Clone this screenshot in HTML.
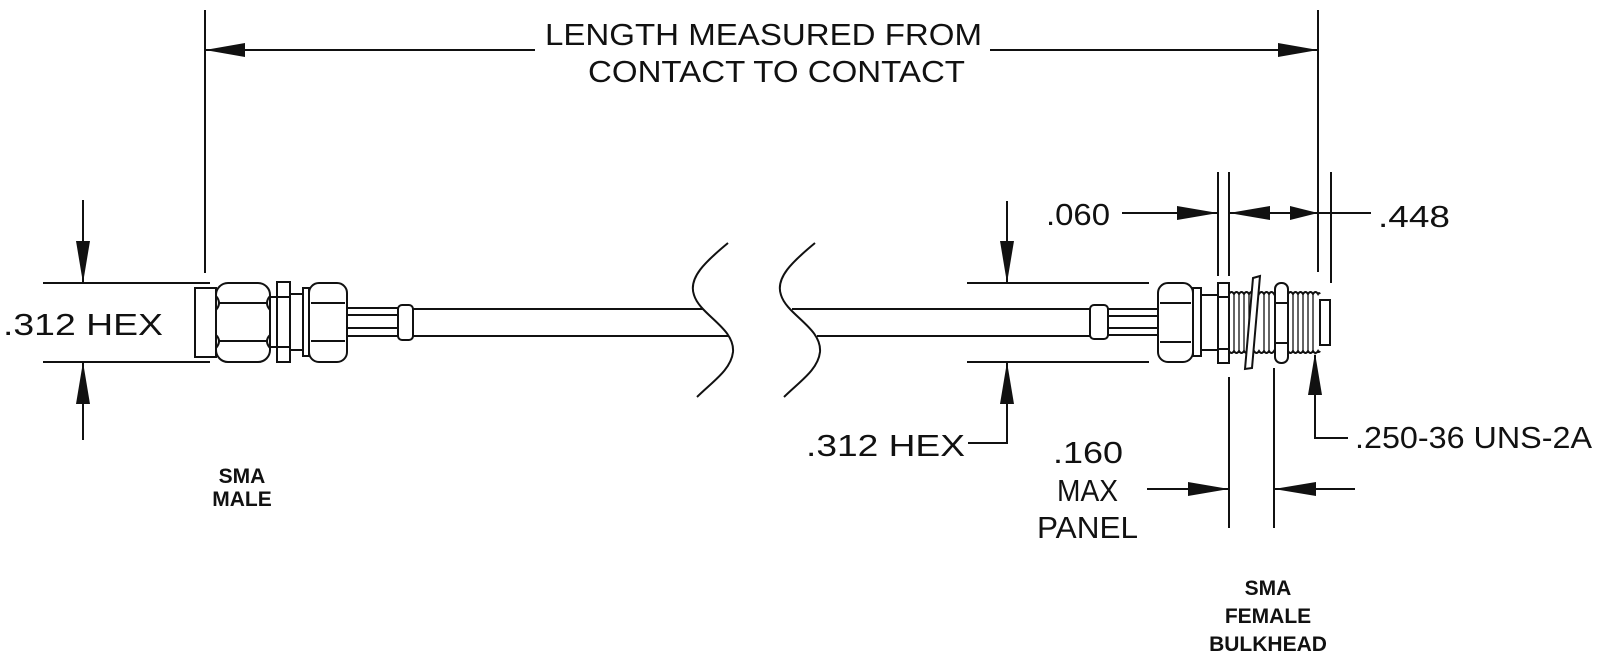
<!DOCTYPE html>
<html><head><meta charset="utf-8"><style>
html,body{margin:0;padding:0;background:#fff;}
svg{display:block;}
text{font-family:"Liberation Sans",sans-serif;fill:#111;}
.t{font-size:31px;}
.b{font-size:21px;font-weight:bold;}
</style></head><body>
<svg width="1600" height="661" viewBox="0 0 1600 661" xmlns="http://www.w3.org/2000/svg">
<g stroke="#111" stroke-width="2" fill="none">
<!-- contact lines -->
<line x1="205" y1="10" x2="205" y2="273"/>
<line x1="1318" y1="10" x2="1318" y2="272"/>
<!-- top dimension line -->
<line x1="205" y1="50" x2="535" y2="50"/>
<line x1="990" y1="50" x2="1318" y2="50"/>
<!-- left hex dim -->
<line x1="43" y1="283" x2="210" y2="283"/>
<line x1="43" y1="362" x2="210" y2="362"/>
<line x1="83" y1="200" x2="83" y2="283"/>
<line x1="83" y1="362" x2="83" y2="440"/>
<!-- right hex dim -->
<line x1="967" y1="283" x2="1149" y2="283"/>
<line x1="967" y1="362" x2="1149" y2="362"/>
<line x1="1007" y1="201" x2="1007" y2="283"/>
<polyline points="1007,362 1007,443 968,443"/>
<!-- .060 / .448 -->
<line x1="1218" y1="172" x2="1218" y2="276"/>
<line x1="1229" y1="172" x2="1229" y2="276"/>
<line x1="1331" y1="172" x2="1331" y2="283"/>
<line x1="1122" y1="213" x2="1218" y2="213"/>
<line x1="1229" y1="213" x2="1318" y2="213"/>
<line x1="1318" y1="213" x2="1371" y2="213"/>
<!-- panel -->
<line x1="1229" y1="377" x2="1229" y2="528"/>
<line x1="1274" y1="368" x2="1274" y2="528"/>
<line x1="1147" y1="489" x2="1229" y2="489"/>
<line x1="1274" y1="489" x2="1355" y2="489"/>
<!-- thread leader -->
<polyline points="1315,355 1315,438 1348,438"/>

<!-- LEFT CONNECTOR -->
<rect x="195" y="288" width="21" height="69"/>
<rect x="216" y="283" width="54" height="79" rx="12"/>
<line x1="218" y1="303" x2="268" y2="303"/>
<line x1="218" y1="341" x2="268" y2="341"/>
<path d="M216,296 Q222,303 216,310 M216,335 Q222,341 216,348 M270,296 Q264,303 270,310 M270,335 Q264,341 270,348"/>
<line x1="270" y1="297" x2="277" y2="297"/><line x1="270" y1="347" x2="277" y2="347"/>
<rect x="277" y="282" width="13" height="80"/>
<line x1="277" y1="297" x2="290" y2="297"/><line x1="277" y1="347" x2="290" y2="347"/>
<line x1="290" y1="294" x2="303" y2="294"/><line x1="290" y1="350" x2="303" y2="350"/>
<rect x="303" y="288" width="6" height="68"/>
<rect x="309" y="283" width="38" height="79" rx="10"/>
<line x1="311" y1="303" x2="345" y2="303"/>
<line x1="311" y1="341" x2="345" y2="341"/>
<line x1="347" y1="308" x2="398" y2="308"/>
<line x1="347" y1="315" x2="398" y2="315"/>
<line x1="347" y1="328" x2="398" y2="328"/>
<line x1="347" y1="336" x2="398" y2="336"/>
<rect x="398" y="305" width="15" height="35" rx="4"/>
<!-- cable -->
<line x1="413" y1="309" x2="703" y2="309"/>
<line x1="413" y1="336" x2="729" y2="336"/>
<line x1="792" y1="309" x2="1090" y2="309"/>
<line x1="817" y1="336" x2="1090" y2="336"/>
<!-- breaks -->
<path d="M728,243 C705,262 688,278 694,295 C700,315 735,328 733,352 C731,370 712,382 697,397"/>
<path d="M815,243 C792,262 775,278 781,295 C787,315 822,328 820,352 C818,370 799,382 784,397"/>

<!-- RIGHT CONNECTOR -->
<rect x="1090" y="305" width="18" height="34" rx="4"/>
<line x1="1108" y1="309" x2="1158" y2="309"/>
<line x1="1108" y1="316" x2="1158" y2="316"/>
<line x1="1108" y1="328" x2="1158" y2="328"/>
<line x1="1108" y1="335" x2="1158" y2="335"/>
<rect x="1158" y="283" width="35" height="79" rx="10"/>
<line x1="1160" y1="303" x2="1191" y2="303"/>
<line x1="1160" y1="342" x2="1191" y2="342"/>
<rect x="1193" y="288" width="8" height="68"/>
<line x1="1201" y1="295" x2="1218" y2="295"/>
<line x1="1201" y1="350" x2="1218" y2="350"/>
<rect x="1218" y="283" width="11" height="80"/>
<line x1="1218" y1="297" x2="1229" y2="297"/><line x1="1218" y1="349" x2="1229" y2="349"/>
<!-- threads -->
<path d="M1229,294 q2.5,-4 5,0 q2.5,-4 5,0 q2.5,-4 5,0 q2.5,-4 5,0 q2.5,-4 5,0 q2.5,-4 5,0 q2.5,-4 5,0 q2.5,-4 5,0 q2.5,-4 5,0 q1,-2 1,0"/>
<path d="M1229,351 q2.5,4 5,0 q2.5,4 5,0 q2.5,4 5,0 q2.5,4 5,0 q2.5,4 5,0 q2.5,4 5,0 q2.5,4 5,0 q2.5,4 5,0 q2.5,4 5,0 q1,2 1,0"/>
<path d="M1234,294V351M1239,294V351M1244,294V351M1249,294V351M1264,294V351M1269,294V351" stroke-width="1.3"/>
<polygon points="1253,278 1260,276 1252,368 1245,369" fill="#fff"/>
<rect x="1275" y="283" width="13" height="80" rx="6"/>
<line x1="1275" y1="303" x2="1288" y2="303"/><line x1="1275" y1="343" x2="1288" y2="343"/>
<path d="M1288,294 q2.5,-4 5,0 q2.5,-4 5,0 q2.5,-4 5,0 q2.5,-4 5,0 q2.5,-4 5,0 q2.5,-4 5,0 q1,-2 2,0"/>
<path d="M1288,351 q2.5,4 5,0 q2.5,4 5,0 q2.5,4 5,0 q2.5,4 5,0 q2.5,4 5,0 q2.5,4 5,0 q1,2 2,0"/>
<path d="M1293,294V351M1298,294V351M1303,294V351M1308,294V351M1313,294V351" stroke-width="1.3"/>
<rect x="1320" y="300" width="10" height="45"/>
</g>
<!-- arrowheads -->
<g fill="#111">
<polygon points="205,50 245,43 245,57"/>
<polygon points="1318,50 1278,43 1278,57"/>
<polygon points="83,283 76,241 90,241"/>
<polygon points="83,362 76,404 90,404"/>
<polygon points="1007,283 1000,241 1014,241"/>
<polygon points="1007,362 1000,404 1014,404"/>
<polygon points="1218,213 1177,206 1177,220"/>
<polygon points="1229,213 1270,206 1270,220"/>
<polygon points="1318,213 1290,206 1290,220"/>
<polygon points="1229,489 1188,482 1188,496"/>
<polygon points="1274,489 1316,482 1316,496"/>
<polygon points="1315,353 1308,395 1322,395"/>
</g>
<!-- text -->
<text class="t" x="545" y="45" textLength="437" lengthAdjust="spacingAndGlyphs">LENGTH  MEASURED  FROM</text>
<text class="t" x="588" y="82" textLength="377" lengthAdjust="spacingAndGlyphs">CONTACT  TO  CONTACT</text>
<text class="t" x="3" y="335" textLength="160" lengthAdjust="spacingAndGlyphs">.312  HEX</text>
<text class="t" x="806" y="456" textLength="159" lengthAdjust="spacingAndGlyphs">.312  HEX</text>
<text class="t" x="1046" y="225" textLength="64" lengthAdjust="spacingAndGlyphs">.060</text>
<text class="t" x="1378" y="227" textLength="72" lengthAdjust="spacingAndGlyphs">.448</text>
<text class="t" x="1355" y="448" textLength="237" lengthAdjust="spacingAndGlyphs">.250-36  UNS-2A</text>
<text class="t" x="1053" y="463" textLength="70" lengthAdjust="spacingAndGlyphs">.160</text>
<text class="t" x="1057" y="501" textLength="61" lengthAdjust="spacingAndGlyphs">MAX</text>
<text class="t" x="1037" y="538" textLength="101" lengthAdjust="spacingAndGlyphs">PANEL</text>
<text class="b" x="242" y="483" text-anchor="middle">SMA</text>
<text class="b" x="242" y="506" text-anchor="middle">MALE</text>
<text class="b" x="1268" y="595" text-anchor="middle">SMA</text>
<text class="b" x="1268" y="623" text-anchor="middle">FEMALE</text>
<text class="b" x="1268" y="651" text-anchor="middle">BULKHEAD</text>
</svg>
</body></html>
